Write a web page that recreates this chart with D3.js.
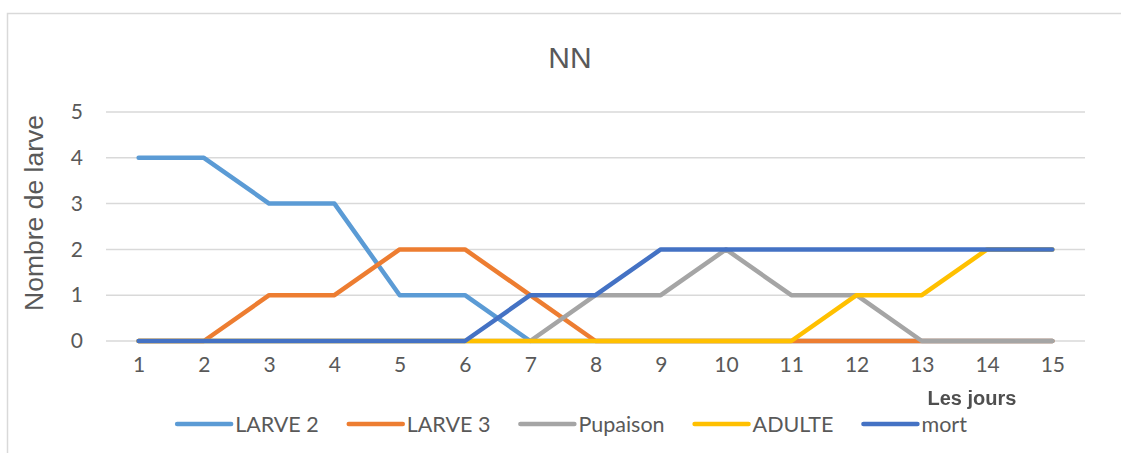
<!DOCTYPE html>
<html><head><meta charset="utf-8">
<script src="https://cdn.jsdelivr.net/npm/d3@7"></script>
<style>body{margin:0;background:#fff}svg{display:block}</style>
</head><body>
<svg id="chart" width="1121" height="453"></svg>
<script>
const days = ["1","2","3","4","5","6","7","8","9","10","11","12","13","14","15"];
const larve2   = [4,4,3,3,1,1,0,0,0,0,0,0,0,0,0];
const larve3   = [0,0,1,1,2,2,1,0,0,0,0,0,0,0,0];
const pupaison = [0,0,0,0,0,0,0,1,1,2,1,1,0,0,0];
const adulte   = [0,0,0,0,0,0,0,0,0,0,0,1,1,2,2];
const mort     = [0,0,0,0,0,0,1,1,2,2,2,2,2,2,2];
const seriesNames = ["LARVE 2","LARVE 3","Pupaison","ADULTE","mort"];
const seriesValues = [larve2, larve3, pupaison, adulte, mort];
const colors = ["#5B9BD5","#ED7D31","#A5A5A5","#FFC000","#4472C4"];
const yTicks = [0,1,2,3,4,5];
const title = "NN";
const yTitle = "Nombre de larve";
const xTitle = "Les jours";

const svg = d3.select("#chart");
const textCol = "#595959";
const font = "Lato, 'Liberation Sans', Arial, sans-serif";

// chart border
svg.append("path").attr("d","M7.5,453 V13.5 H1121").attr("fill","none").attr("stroke","#d9d9d9").attr("stroke-width",1.5);

const x = d3.scalePoint().domain(days).range([106,1085]).padding(0.5);
const y = d3.scaleLinear().domain([0,5]).range([341,112]);

// gridlines
svg.append("g").selectAll("line").data(yTicks).join("line")
  .attr("x1",106).attr("x2",1085)
  .attr("y1",d=>y(d)).attr("y2",d=>y(d))
  .attr("stroke","#d9d9d9").attr("stroke-width",1.5);

// y axis labels
const yAxis = d3.axisLeft(y).tickValues(yTicks).tickFormat(d3.format("d")).tickSize(0).tickPadding(0);
const gy = svg.append("g").attr("transform","translate(83,0)").call(yAxis);
gy.select(".domain").remove();
gy.selectAll("text").attr("fill",textCol).style("font-family",font).style("font-size","21px");

// x axis labels
const xAxis = d3.axisBottom(x).tickSize(0).tickPadding(0);
const gx = svg.append("g").attr("transform","translate(0,357)").call(xAxis);
gx.select(".domain").remove();
gx.selectAll("text").attr("fill",textCol).style("font-family",font).style("font-size","21px");

// title
svg.append("text").attr("x",570).attr("y",68).attr("text-anchor","middle")
  .attr("fill",textCol).style("font-family","'Liberation Sans', Arial, sans-serif").style("font-size","30px").text(title);

// y title
svg.append("text").attr("transform","translate(43,213) rotate(-90)").attr("text-anchor","middle")
  .attr("fill",textCol).style("font-family","'Liberation Sans', Arial, sans-serif").style("font-size","26.5px").text(yTitle);

// x title (blurred bold)
const defs = svg.append("defs");
defs.append("filter").attr("id","blur").append("feGaussianBlur").attr("stdDeviation",0.7);
svg.append("text").attr("x",972).attr("y",405).attr("text-anchor","middle")
  .attr("fill","#505050").attr("filter","url(#blur)")
  .style("font-family","'Liberation Sans', Arial, sans-serif").style("font-weight","bold").style("font-size","20px").text(xTitle);

// lines
const line = d3.line().x((d,i)=>x(days[i])).y(d=>y(d));
svg.append("g").selectAll("path").data(seriesValues).join("path")
  .attr("d",d=>line(d)).attr("fill","none")
  .attr("stroke",(d,i)=>colors[i]).attr("stroke-width",4.5)
  .attr("stroke-linejoin","round").attr("stroke-linecap","round");

// legend
const lg = svg.append("g");
let cx = 0;
seriesNames.forEach((n,i)=>{
  const g = lg.append("g").attr("transform",`translate(${cx},0)`);
  g.append("line").attr("x1",0).attr("x2",54).attr("y1",0).attr("y2",0)
    .attr("stroke",colors[i]).attr("stroke-width",4.5).attr("stroke-linecap","round");
  const t = g.append("text").attr("x",58).attr("y",0).attr("dy","0.35em")
    .attr("fill",textCol).style("font-family",font).style("font-size","21.5px").text(n);
  const w = t.node().getComputedTextLength();
  cx += 58 + w + 30;
});
const total = cx - 30;
lg.attr("transform",`translate(${572 - total/2},424)`);
</script>
</body></html>
